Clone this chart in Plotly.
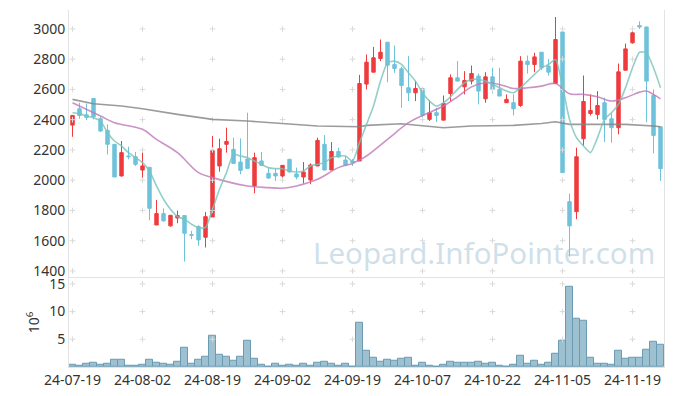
import plotly.graph_objects as go

dates = [
    "2024-07-19", "2024-07-22", "2024-07-23", "2024-07-24", "2024-07-25", "2024-07-26",
    "2024-07-29", "2024-07-30", "2024-07-31", "2024-08-01", "2024-08-02", "2024-08-05",
    "2024-08-06", "2024-08-07", "2024-08-08", "2024-08-09", "2024-08-12", "2024-08-13",
    "2024-08-14", "2024-08-16", "2024-08-19", "2024-08-20", "2024-08-21", "2024-08-22",
    "2024-08-23", "2024-08-26", "2024-08-27", "2024-08-28", "2024-08-29", "2024-08-30",
    "2024-09-02", "2024-09-03", "2024-09-04", "2024-09-05", "2024-09-06", "2024-09-09",
    "2024-09-10", "2024-09-11", "2024-09-12", "2024-09-13", "2024-09-19", "2024-09-20",
    "2024-09-23", "2024-09-24", "2024-09-25", "2024-09-26", "2024-09-27", "2024-09-30",
    "2024-10-02", "2024-10-04", "2024-10-07", "2024-10-08", "2024-10-10", "2024-10-11",
    "2024-10-14", "2024-10-15", "2024-10-16", "2024-10-17", "2024-10-18", "2024-10-21",
    "2024-10-22", "2024-10-23", "2024-10-24", "2024-10-25", "2024-10-28", "2024-10-29",
    "2024-10-30", "2024-10-31", "2024-11-01", "2024-11-04", "2024-11-05", "2024-11-06",
    "2024-11-07", "2024-11-08", "2024-11-11", "2024-11-12", "2024-11-13", "2024-11-14",
    "2024-11-15", "2024-11-18", "2024-11-19", "2024-11-20", "2024-11-21", "2024-11-22",
    "2024-11-25",
]

open_ = [2364, 2472, 2432, 2540, 2406, 2329, 2237, 2028, 2160, 2155, 2067, 2085, 1704, 1779,
         1698, 1750, 1766, 1640, 1693, 1623, 1757, 2094, 2237, 2204, 2120, 2140, 1962, 2127,
         2045, 2045, 2028, 2138, 2041, 2021, 2001, 2094, 2237, 2067, 2190, 2133, 2127, 2127,
         2635, 2714, 2804, 2912, 2765, 2736, 2611, 2578, 2606, 2402, 2446, 2397, 2573, 2677,
         2617, 2655, 2688, 2538, 2683, 2600, 2512, 2512, 2494, 2787, 2765, 2846, 2754, 2639,
         2980, 1858, 1792, 2274, 2441, 2435, 2512, 2406, 2347, 2727, 2908, 3022, 3013, 2560,
         2353]
high = [2430, 2512, 2507, 2540, 2419, 2369, 2237, 2259, 2221, 2186, 2186, 2085, 1869, 1814,
        1768, 1799, 1766, 1665, 1702, 1790, 2292, 2274, 2347, 2281, 2276, 2446, 2182, 2186,
        2083, 2083, 2098, 2138, 2083, 2120, 2111, 2281, 2298, 2252, 2215, 2160, 2140, 2696,
        2831, 2881, 2930, 2912, 2890, 2750, 2820, 2655, 2606, 2529, 2479, 2560, 2699, 2787,
        2721, 2758, 2705, 2714, 2743, 2743, 2567, 2567, 2820, 2824, 2842, 2846, 2802, 3079,
        2980, 1911, 2215, 2692, 2567, 2589, 2545, 2446, 2771, 2903, 3013, 3050, 3013, 2600,
        2353]
low = [2287, 2406, 2397, 2402, 2318, 2171, 2021, 2024, 2138, 2094, 2006, 1735, 1704, 1726,
       1693, 1715, 1462, 1610, 1566, 1555, 1757, 2056, 2182, 2111, 2039, 2078, 1913, 2094,
       2010, 1995, 1995, 2050, 2006, 1979, 1973, 2094, 2067, 2067, 2149, 2094, 2094, 2127,
       2600, 2714, 2787, 2648, 2710, 2479, 2523, 2523, 2402, 2391, 2384, 2397, 2523, 2655,
       2567, 2633, 2501, 2512, 2573, 2556, 2512, 2428, 2485, 2705, 2714, 2727, 2692, 2639,
       2050, 1495, 1742, 2230, 2428, 2402, 2252, 2248, 2303, 2727, 2903, 3000, 2384, 2177,
       1995]
close = [2428, 2428, 2415, 2419, 2325, 2237, 2021, 2182, 2155, 2105, 2094, 1814, 1779, 1731,
         1768, 1766, 1649, 1636, 1605, 1759, 2197, 2208, 2256, 2111, 2065, 2078, 2149, 2098,
         2014, 2028, 2098, 2054, 2021, 2054, 2100, 2263, 2067, 2190, 2153, 2100, 2116, 2639,
         2780, 2809, 2846, 2760, 2738, 2626, 2578, 2606, 2428, 2446, 2428, 2507, 2677, 2655,
         2659, 2705, 2589, 2683, 2600, 2556, 2534, 2472, 2787, 2765, 2815, 2743, 2714, 2930,
         2050, 1698, 2155, 2520, 2461, 2494, 2402, 2347, 2716, 2868, 2974, 3013, 2655, 2296,
         2076]

volume_m = [0.42, 0.2, 0.6, 0.8, 0.42, 0.6, 1.33, 1.33, 0.25, 0.25, 0.42, 1.33, 0.8, 0.6,
            0.42, 0.97, 3.5, 0.6, 1.33, 1.87, 5.68, 2.23, 1.87, 1.15, 1.87, 4.77, 1.5, 0.42,
            0.06, 0.6, 0.25, 0.42, 0.25, 0.6, 0.25, 0.8, 0.97, 0.6, 0.25, 0.6, 0.06, 8.03,
            2.96, 1.69, 0.97, 1.33, 1.15, 1.5, 1.69, 0.25, 0.8, 0.25, 0.06, 0.42, 0.97, 0.8,
            0.8, 0.8, 0.97, 0.6, 0.8, 0.25, 0.06, 0.42, 2.05, 0.6, 1.15, 0.42, 0.8, 2.42,
            4.77, 14.55, 8.76, 8.39, 1.69, 0.6, 0.6, 0.42, 2.96, 1.5, 1.69, 1.69, 3.14, 4.59,
            4.05]

ma5 = [2446, 2440, 2424, 2413, 2391, 2314, 2259, 2226, 2182, 2149, 2116, 2061, 1962, 1874,
       1808, 1759, 1742, 1709, 1687, 1687, 1808, 1940, 2050, 2171, 2160, 2149, 2127, 2105,
       2083, 2076, 2076, 2061, 2054, 2061, 2094, 2105, 2116, 2149, 2160, 2160, 2127, 2248,
       2369, 2490, 2655, 2776, 2787, 2765, 2710, 2655, 2578, 2523, 2490, 2512, 2551, 2600,
       2644, 2666, 2666, 2655, 2633, 2611, 2589, 2578, 2611, 2655, 2699, 2743, 2765, 2798,
       2622, 2402, 2281, 2226, 2182, 2281, 2402, 2446, 2501, 2611, 2743, 2846, 2842, 2743,
       2611]

ma20_idx = [0, 4, 6, 10, 12, 15, 18, 20, 25, 28, 30, 32, 35, 38, 40, 41, 42, 45, 48, 50,
            53, 55, 57, 59, 61, 63, 65, 67, 69, 71, 73, 75, 77, 79, 81, 82, 83, 84]
ma20 = [2512, 2424, 2380, 2336, 2270, 2182, 2050, 2017, 1962, 1951, 1947, 1962, 2006, 2083,
        2111, 2133, 2160, 2270, 2380, 2428, 2490, 2551, 2617, 2644, 2633, 2606, 2611, 2622,
        2639, 2571, 2567, 2551, 2523, 2545, 2582, 2589, 2567, 2538]

malong_idx = [0, 3, 7, 10, 15, 20, 25, 30, 35, 41, 42, 47, 50, 53, 57, 63, 67, 69, 71, 75,
              79, 83, 84]
malong = [2534, 2505, 2490, 2472, 2435, 2402, 2391, 2375, 2358, 2353, 2362, 2373, 2362, 2347,
          2358, 2362, 2375, 2386, 2369, 2369, 2369, 2358, 2353]

price_ticks = [1400, 1600, 1800, 2000, 2200, 2400, 2600, 2800, 3000]
vol_ticks = [5, 10, 15]
x_tick_idx = [0, 10, 20, 30, 40, 50, 60, 70, 80]

tick_dates = [dates[i] for i in x_tick_idx]
tick_text = [d[2:] for d in tick_dates]

UP = "#EF3B3E"
DOWN = "#6EC3DB"
FONT = "Noto Sans"

fig = go.Figure()

# faint cross marks at grid intersections
gx, gy = [], []
for d in tick_dates:
    for p in price_ticks:
        gx.append(d)
        gy.append(p)
fig.add_trace(go.Scatter(x=gx, y=gy, mode="markers", yaxis="y", xaxis="x",
                         marker=dict(symbol="cross-thin", size=4,
                                     line=dict(color="#dadada", width=1)),
                         hoverinfo="skip", showlegend=False))
vx, vy = [], []
for d in tick_dates:
    for v in vol_ticks:
        vx.append(d)
        vy.append(v)
fig.add_trace(go.Scatter(x=vx, y=vy, mode="markers", yaxis="y2", xaxis="x",
                         marker=dict(symbol="cross-thin", size=4,
                                     line=dict(color="#dadada", width=1)),
                         hoverinfo="skip", showlegend=False))

fig.add_trace(go.Scatter(x=[dates[i] for i in malong_idx], y=malong, mode="lines",
                         line=dict(color="rgba(130,130,130,0.8)", width=1.6),
                         yaxis="y", xaxis="x", showlegend=False))
fig.add_trace(go.Scatter(x=[dates[i] for i in ma20_idx], y=ma20, mode="lines",
                         line=dict(color="rgba(190,120,185,0.8)", width=1.6, shape="spline"),
                         yaxis="y", xaxis="x", showlegend=False))

fig.add_trace(go.Candlestick(x=dates, open=open_, high=high, low=low, close=close,
                             increasing=dict(line=dict(color=UP, width=1), fillcolor=UP),
                             decreasing=dict(line=dict(color=DOWN, width=1), fillcolor=DOWN),
                             whiskerwidth=0, yaxis="y", xaxis="x", showlegend=False))

fig.add_trace(go.Scatter(x=dates, y=ma5, mode="lines",
                         line=dict(color="rgba(120,195,185,0.8)", width=1.6, shape="spline",
                                   smoothing=0.6),
                         yaxis="y", xaxis="x", showlegend=False))

fig.add_trace(go.Bar(x=dates, y=volume_m, yaxis="y2", xaxis="x",
                     marker=dict(color="rgba(140,182,201,0.85)",
                                 line=dict(color="#6a9bb2", width=1)),
                     showlegend=False))

fig.add_annotation(text="Leopard.InfoPointer.com", xref="paper", yref="paper",
                   x=0.698, y=0.322, xanchor="center", yanchor="middle", showarrow=False,
                   font=dict(family=FONT, size=29.5, color="rgba(160,193,212,0.5)"))

# The page body adds an 8px offset, so the figure is sized to fit the window.
fig.update_layout(
    width=665, height=388,
    margin=dict(l=61, r=9, t=2, b=29, autoexpand=False),
    paper_bgcolor="white", plot_bgcolor="white",
    font=dict(family=FONT, size=14, color="#333"),
    bargap=0,
    xaxis=dict(type="category", categoryorder="array", categoryarray=dates,
               tickvals=tick_dates, ticktext=tick_text, tickangle=0,
               range=[-0.5, len(dates) - 0.5], automargin=False,
               showgrid=False, zeroline=False, anchor="y2",
               showline=True, linecolor="#e3e3e3", mirror=True, ticks="",
               rangeslider=dict(visible=False)),
    yaxis=dict(domain=[0.25, 1], range=[1355, 3125], tickvals=price_ticks,
               showgrid=False, zeroline=False, showline=True, linecolor="#e3e3e3",
               mirror=True, ticks="", automargin=False),
    yaxis2=dict(domain=[0, 0.25], range=[0, 16.1], tickvals=vol_ticks,
                showgrid=False, zeroline=False, showline=True, linecolor="#e3e3e3",
                mirror=True, ticks="", automargin=False,
                title=dict(text="10<sup>6</sup>", standoff=6, font=dict(size=14))),
)

fig.write_html("out.html")
